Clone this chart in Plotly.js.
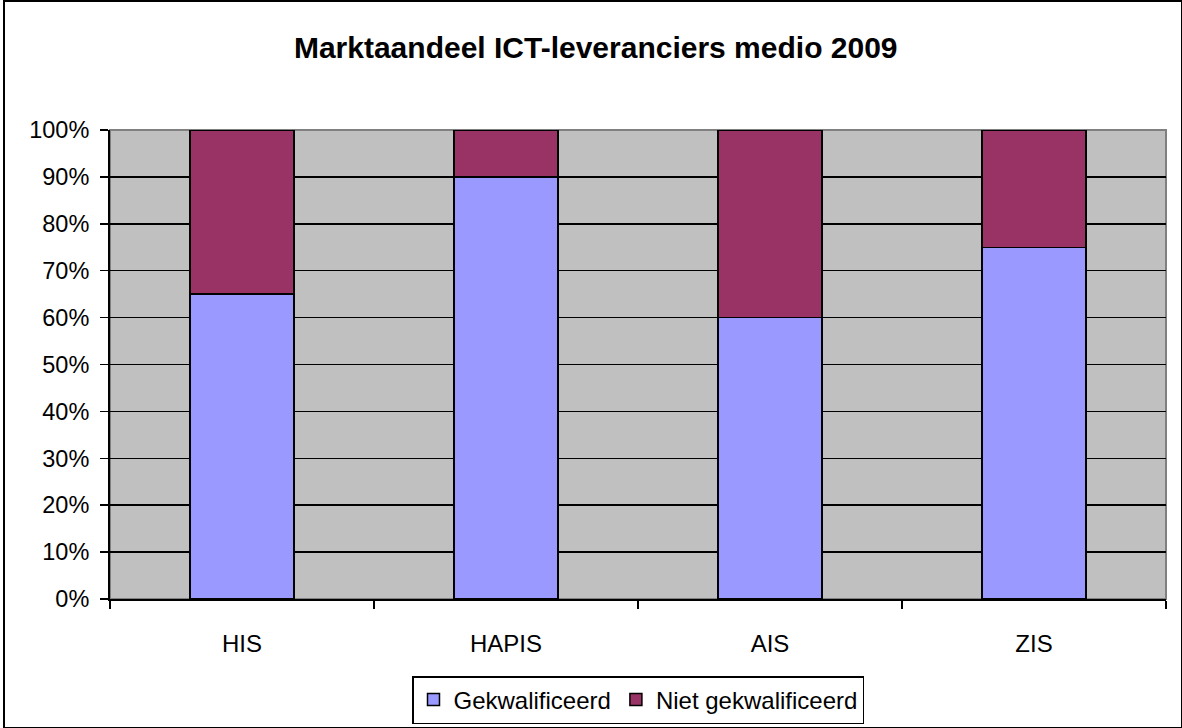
<!DOCTYPE html>
<html>
<head>
<meta charset="utf-8">
<script src="https://cdn.plot.ly/plotly-3.0.1.min.js"></script>
<style>
  html, body { margin: 0; padding: 0; background: #fff; }
  #wrap { position: relative; width: 1182px; height: 728px; }
  #chart { position: absolute; left: 0; top: 0; width: 1182px; height: 728px; }
  #frame { position: absolute; left: 3px; top: 0px; width: 1176px; height: 725px; border: 2px solid #000; pointer-events: none; }
</style>
</head>
<body>
<div id="wrap">
  <div id="chart"></div>
  <div id="frame"></div>
</div>
<script>
const categories = ["HIS", "HAPIS", "AIS", "ZIS"];
const gekwalificeerd = [0.65, 0.90, 0.60, 0.75];
const nietGekwalificeerd = [0.35, 0.10, 0.40, 0.25];
const seriesNames = ["Gekwalificeerd", "Niet gekwalificeerd"];
const yTickVals = [0, 0.1, 0.2, 0.3, 0.4, 0.5, 0.6, 0.7, 0.8, 0.9, 1.0];
const yTickText = ["0%", "10%", "20%", "30%", "40%", "50%", "60%", "70%", "80%", "90%", "100%"];

const font = "Liberation Sans, Arial, sans-serif";

const traces = [
  {
    type: "bar", name: seriesNames[0], x: categories, y: gekwalificeerd,
    marker: { color: "#9999FF", line: { color: "#000", width: 1.5 } }
  },
  {
    type: "bar", name: seriesNames[1], x: categories, y: nietGekwalificeerd,
    marker: { color: "#993366", line: { color: "#000", width: 1.5 } }
  }
];

const layout = {
  width: 1182, height: 728,
  margin: { l: 110, r: 16, t: 130, b: 129, autoexpand: false },
  paper_bgcolor: "rgba(0,0,0,0)",
  plot_bgcolor: "#C0C0C0",
  barmode: "stack",
  bargap: 0.606,
  font: { family: font, color: "#000", size: 23 },
  title: {
    text: "<b>Marktaandeel ICT-leveranciers medio 2009</b>",
    font: { family: font, size: 30, color: "#000" },
    x: 0.504, xref: "container", xanchor: "center",
    y: 1 - 47 / 728, yref: "container", yanchor: "middle"
  },
  xaxis: {
    type: "category",
    showline: true, linecolor: "#000", linewidth: 2,
    ticks: "outside", tickson: "boundaries", ticklen: 8, tickcolor: "#000", tickwidth: 1.5,
    ticklabelstandoff: 22,
    tickfont: { family: font, size: 24, color: "#000" },
    showgrid: false, zeroline: false, fixedrange: true, automargin: false
  },
  yaxis: {
    range: [0, 1],
    tickvals: yTickVals, ticktext: yTickText,
    showline: true, linecolor: "#000", linewidth: 2,
    ticks: "outside", ticklen: 8, tickcolor: "#000", tickwidth: 1.5,
    ticklabelstandoff: 6,
    tickfont: { family: font, size: 23.5, color: "#000" },
    showgrid: true, gridcolor: "#000", gridwidth: 1.5,
    zeroline: false, fixedrange: true, automargin: false
  },
  shapes: [
    {
      type: "rect", xref: "paper", yref: "paper", x0: 0, x1: 1, y0: 0, y1: 1,
      line: { color: "#808080", width: 2 }, fillcolor: "rgba(0,0,0,0)", layer: "between"
    }
  ],
  legend: {
    orientation: "h",
    x: 0.5, xanchor: "center", xref: "paper",
    y: 1 - 700 / 728, yanchor: "middle", yref: "container",
    bordercolor: "#000", borderwidth: 1.5, bgcolor: "#fff",
    font: { family: font, size: 24, color: "#000" },
    traceorder: "normal",
    itemwidth: 30
  },
  showlegend: true
};

Plotly.newPlot("chart", traces, layout, { displayModeBar: false, staticPlot: true });
</script>
</body>
</html>
